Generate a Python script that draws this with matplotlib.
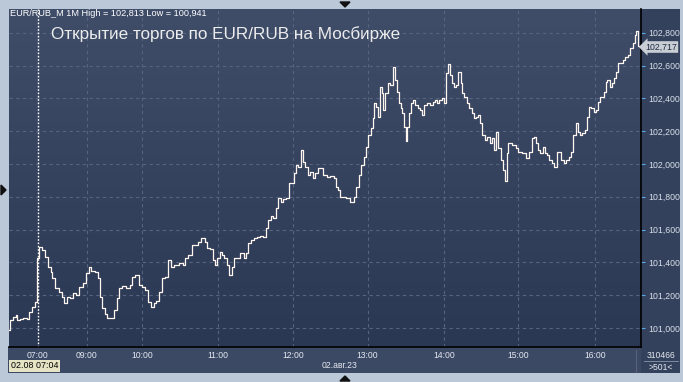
import numpy as np
import matplotlib
matplotlib.use("Agg")
import matplotlib.pyplot as plt
from matplotlib.patches import Polygon

plt.rcParams['font.family'] = ['Liberation Sans', 'DejaVu Sans']

# minute bar index (0 = first bar of the session) and price
bar = [0, 2, 5, 6, 7, 10, 13, 15, 17, 20, 22, 23, 25, 27, 30, 32, 34, 35, 38, 41,
       43, 45, 47, 50, 52, 55, 57, 60, 63, 64, 67, 70, 72, 73, 75, 77, 79, 82, 85, 87,
       88, 91, 95, 97, 99, 102, 104, 107, 110, 111, 114, 116, 118, 121, 122, 126, 127, 130, 132, 134,
       137, 139, 141, 144, 145, 146, 149, 152, 154, 157, 158, 161, 163, 165, 166, 169, 170, 172, 174, 176,
       178, 180, 183, 185, 188, 189, 191, 193, 196, 198, 201, 203, 205, 207, 209, 211, 213, 215, 217, 219,
       222, 223, 226, 227, 229, 231, 233, 234, 237, 238, 241, 242, 245, 246, 249, 251, 254, 257, 259, 261,
       262, 265, 267, 269, 273, 275, 277, 279, 281, 283, 285, 286, 289, 290, 291, 293, 294, 296, 297, 298,
       300, 302, 304, 306, 308, 309, 311, 312, 313, 315, 316, 317, 319, 320, 322, 324, 326, 328, 329, 331,
       333, 336, 338, 340, 341, 343, 345, 347, 348, 350, 351, 353, 355, 356, 358, 360, 361, 363, 365, 367,
       369, 370, 372, 374, 375, 377, 379, 381, 383, 385, 386, 388, 390, 392, 393, 395, 396, 398, 401, 402,
       404, 406, 409, 410, 412, 414, 417, 418, 420, 421, 424, 425, 427, 428, 431, 432, 435, 436, 438, 440,
       442, 444, 446, 448, 449, 452, 453, 455, 456, 459, 460, 462, 464, 466, 467, 469, 471, 472, 474, 475,
       476, 479, 480, 482, 483, 485, 487, 489, 491, 493, 495, 497, 498, 499, 501]
price = [100.988, 101.049, 101.067, 101.079, 101.049, 101.055, 101.061, 101.055, 101.098, 101.128,
         101.159, 101.427, 101.494, 101.476, 101.433, 101.372, 101.342, 101.305, 101.244, 101.220,
         101.189, 101.153, 101.189, 101.183, 101.214, 101.202, 101.251, 101.275, 101.336, 101.372,
         101.348, 101.342, 101.305, 101.189, 101.122, 101.086, 101.061, 101.061, 101.110, 101.183,
         101.244, 101.257, 101.244, 101.263, 101.312, 101.324, 101.263, 101.251, 101.232, 101.159,
         101.128, 101.153, 101.165, 101.220, 101.305, 101.312, 101.415, 101.372, 101.385, 101.385,
         101.397, 101.385, 101.427, 101.446, 101.446, 101.507, 101.507, 101.525, 101.550, 101.525,
         101.488, 101.482, 101.415, 101.385, 101.427, 101.464, 101.446, 101.427, 101.385, 101.324,
         101.372, 101.427, 101.427, 101.458, 101.427, 101.458, 101.519, 101.537, 101.550, 101.556,
         101.562, 101.556, 101.610, 101.659, 101.684, 101.672, 101.733, 101.793, 101.769, 101.787,
         101.793, 101.885, 101.885, 101.946, 101.995, 101.983, 102.086, 102.013, 101.983, 101.934,
         101.952, 101.916, 101.946, 101.977, 101.977, 101.934, 101.922, 101.928, 101.916, 101.861,
         101.842, 101.800, 101.800, 101.793, 101.769, 101.800, 101.861, 101.934, 101.995, 102.043,
         102.104, 102.178, 102.220, 102.281, 102.373, 102.349, 102.288, 102.471, 102.434, 102.330,
         102.434, 102.495, 102.483, 102.590, 102.513, 102.440, 102.373, 102.342, 102.312, 102.227,
         102.140, 102.227, 102.312, 102.373, 102.391, 102.361, 102.342, 102.330, 102.300, 102.361,
         102.373, 102.361, 102.379, 102.391, 102.373, 102.391, 102.403, 102.373, 102.556, 102.610,
         102.544, 102.495, 102.471, 102.483, 102.562, 102.495, 102.434, 102.410, 102.373, 102.342,
         102.312, 102.281, 102.288, 102.300, 102.251, 102.178, 102.147, 102.166, 102.129, 102.160,
         102.086, 102.196, 102.098, 102.025, 101.964, 101.895, 102.068, 102.129, 102.117, 102.117,
         102.098, 102.074, 102.068, 102.068, 102.037, 102.074, 102.160, 102.166, 102.129, 102.086,
         102.068, 102.104, 102.068, 102.056, 102.025, 102.007, 101.983, 102.074, 102.074, 102.025,
         102.007, 102.025, 102.043, 102.074, 102.178, 102.251, 102.196, 102.178, 102.190, 102.208,
         102.288, 102.349, 102.342, 102.318, 102.330, 102.379, 102.410, 102.410, 102.440, 102.501,
         102.513, 102.471, 102.495, 102.526, 102.562, 102.617, 102.617, 102.635, 102.654, 102.666,
         102.708, 102.739, 102.788, 102.810, 102.717]

hour_pos = [23, 62, 106, 166, 226, 285, 346, 405, 466]
hour_lbl = ['07:00', '09:00', '10:00', '11:00', '12:00', '13:00', '14:00', '15:00', '16:00']
y_ticks = [101.0, 101.2, 101.4, 101.6, 101.8, 102.0, 102.2, 102.4, 102.6, 102.8]

W, H = 683, 382
fig = plt.figure(figsize=(W / 100, H / 100), dpi=100)
fig.patch.set_facecolor('#bac8d7')

def box(x0, y0, x1, y1):
    # pixel box (top-left origin) -> figure fraction rect
    return [x0 / W, 1 - y1 / H, (x1 - x0) / W, (y1 - y0) / H]

# right price panel and bottom time panel
rp = fig.add_axes(box(641, 9, 680, 373))
rp.set_facecolor('#33415c')
rp.set_xticks([]); rp.set_yticks([])
for s in rp.spines.values():
    s.set_visible(False)
bp = fig.add_axes(box(8, 347, 641, 373))
bp.set_facecolor('#3b4965')
bp.set_xticks([]); bp.set_yticks([])
for s in bp.spines.values():
    s.set_visible(False)

ax = fig.add_axes(box(9, 9, 641, 347))
xmin, xmax = 0, 502.4
ymin, ymax = 100.884, 102.945
ax.set_xlim(xmin, xmax)
ax.set_ylim(ymin, ymax)

# gradient background
grad = np.linspace(0, 1, 256).reshape(-1, 1)
cm = matplotlib.colors.LinearSegmentedColormap.from_list('bg', ['#2b3853', '#3f4d69'])
ax.imshow(grad, extent=[xmin, xmax, ymin, ymax], origin='lower', aspect='auto',
          cmap=cm, zorder=0)

for yt in y_ticks:
    ax.axhline(yt, color='#56647f', lw=0.8, ls=(0, (3, 3)), zorder=1)
for xt in hour_pos[1:]:
    ax.axvline(xt, color='#56647f', lw=0.8, ls=(0, (3, 3)), zorder=1)
ax.axvline(hour_pos[0], color='white', lw=1.0, ls=(0, (1.2, 1.2)), zorder=2)

ax.plot(bar, price, color='#fff6ef', lw=0.9, drawstyle='steps-mid', zorder=3)

ax.yaxis.tick_right()
ax.set_yticks(y_ticks)
ax.set_yticklabels([f'{v:.3f}'.replace('.', ',') for v in y_ticks])
ax.tick_params(axis='y', colors='#58a8e8', labelcolor='#d8e0ea', labelsize=6.3,
               length=3, width=0.8, pad=2)
ax.set_xticks(hour_pos)
ax.set_xticklabels(hour_lbl)
ax.tick_params(axis='x', length=0, labelcolor='#e4e9f0', labelsize=6.2, pad=3)
for side in ['left', 'top']:
    ax.spines[side].set_visible(False)
ax.spines['right'].set_color('black')
ax.spines['right'].set_linewidth(1.2)
ax.spines['bottom'].set_color('black')
ax.spines['bottom'].set_linewidth(1.2)

fig.text(10 / W, 1 - 13 / H, 'EUR/RUB_M 1M High = 102,813 Low = 100,941',
         color='white', fontsize=6.6, va='center', ha='left')
fig.text(51 / W, 1 - 34 / H, 'Открытие торгов по EUR/RUB на Мосбирже',
         color='#ececec', fontsize=12.3, va='center', ha='left')

# last price tag
fig.text(645 / W, 1 - 47 / H, '102,717', color='#1d2b40', fontsize=6.3,
         va='center', ha='left',
         bbox=dict(boxstyle='larrow,pad=0.15', fc='#c9ced4', ec='none'))

# bottom panel texts
fig.text(11 / W, 1 - 366 / H, '02.08 07:04', color='black', fontsize=6.4,
         va='center', ha='left',
         bbox=dict(boxstyle='square,pad=0.2', fc='#e7e4c6', ec='none'))
fig.text(339 / W, 1 - 366 / H, '02.авг.23', color='#e4e9f0', fontsize=6.2,
         va='center', ha='center')
fig.text(661 / W, 1 - 355 / H, '310466', color='#e4e9f0', fontsize=6.2,
         va='center', ha='center')
fig.text(661 / W, 1 - 368 / H, '>501<', color='#e4e9f0', fontsize=6.2,
         va='center', ha='center')
fig.add_artist(plt.Line2D([644 / W, 678 / W], [1 - 361 / H, 1 - 361 / H],
                          color='#8a96a8', lw=0.6))
fig.add_artist(plt.Line2D([636 / W, 636 / W], [1 - 350 / H, 1 - 372 / H],
                          color='#55627a', lw=0.8))

# scroll markers
tri = dict(color='#111111', transform=fig.transFigure)
fig.add_artist(Polygon([[340 / W, 1 - 2 / H], [350 / W, 1 - 2 / H], [345 / W, 1 - 7 / H]], **tri))
fig.add_artist(Polygon([[340 / W, 1 - 381 / H], [350 / W, 1 - 381 / H], [345 / W, 1 - 376 / H]], **tri))
fig.add_artist(Polygon([[1 / W, 1 - 185 / H], [1 / W, 1 - 195 / H], [6 / W, 1 - 190 / H]], **tri))

fig.savefig('out.png', dpi=100, facecolor=fig.get_facecolor())
